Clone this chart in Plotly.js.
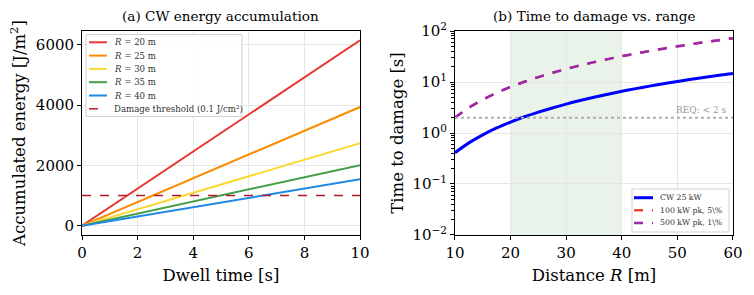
<!DOCTYPE html>
<html><head><meta charset="utf-8">
<script src="https://cdn.plot.ly/plotly-3.0.1.min.js"></script>
<style>html,body{margin:0;padding:0;background:#fff}#c{width:754px;height:295px}</style>
</head><body><div id="c"></div>
<script>
// Panel (a): energy accumulation, endpoints of linear ramps
const dwell = [0, 10];
const rangeLabels = ['20', '25', '30', '35', '40'];
const energyAt10 = [6150, 3936, 2733, 2008, 1538];
const thresholdJ = 1000;
const colorsA = ['#e53935', '#fb8c00', '#fdd835', '#43a047', '#1e88e5'];

// Panel (b): time to damage vs distance
const dist = [10, 12.5, 15, 17.5, 20, 22.5, 25, 27.5, 30, 32.5, 35, 37.5, 40, 42.5, 45, 47.5, 50, 52.5, 55, 57.5, 60];
const tCW = [0.41, 0.64, 0.92, 1.26, 1.64, 2.08, 2.56, 3.10, 3.69, 4.33, 5.02, 5.77, 6.56, 7.41, 8.30, 9.25, 10.25, 11.3, 12.4, 13.55, 14.76];
const tPk100 = [2.0, 3.13, 4.5, 6.13, 8.0, 10.1, 12.5, 15.1, 18.0, 21.1, 24.5, 28.1, 32.0, 36.1, 40.5, 45.1, 50.0, 55.1, 60.5, 66.1, 72.0];
const tPk500 = [2.0, 3.13, 4.5, 6.13, 8.0, 10.1, 12.5, 15.1, 18.0, 21.1, 24.5, 28.1, 32.0, 36.1, 40.5, 45.1, 50.0, 55.1, 60.5, 66.1, 72.0];
const reqTime = 2;
const opRange = [20, 40];

const F = 'DejaVu Serif, serif';
const W = 754, H = 295;
const px = v => v / W, py = v => (H - v) / H;

const traces = [];
const legA = [];
rangeLabels.forEach((r, i) => {
  traces.push({x: dwell, y: [0, energyAt10[i]], mode: 'lines', showlegend: false,
    line: {color: colorsA[i], width: 2}, xaxis: 'x', yaxis: 'y'});
  legA.push({label: '<i>R</i> = ' + r + ' m', color: colorsA[i], dash: 'solid', width: 2});
});
traces.push({x: dwell, y: [thresholdJ, thresholdJ], mode: 'lines', showlegend: false,
  line: {color: '#b2182b', width: 1.5, dash: 'dash'}, xaxis: 'x', yaxis: 'y'});
legA.push({label: 'Damage threshold (0.1 J/cm²)', color: '#b2182b', dash: 'dash', width: 1.5});

const seriesB = [
  {y: tCW, label: 'CW 25 kW', color: '#0000ff', dash: 'solid', width: 3},
  {y: tPk100, label: '100 kW pk, 5\\%', color: '#f44336', dash: 'dash', width: 2.5},
  {y: tPk500, label: '500 kW pk, 1\\%', color: '#9c27b0', dash: 'dash', width: 2.5}
];
seriesB.forEach(s => traces.push({x: dist, y: s.y, mode: 'lines', showlegend: false,
  line: {color: s.color, width: s.width, dash: s.dash, shape: 'spline'}, xaxis: 'x2', yaxis: 'y2'}));
traces.push({x: [dist[0], dist[dist.length-1]], y: [reqTime, reqTime], mode: 'lines', showlegend: false,
  line: {color: '#b0b0b0', width: 2, dash: 'dot'}, xaxis: 'x2', yaxis: 'y2'});

const axBase = {showline: true, mirror: true, linecolor: '#000', linewidth: 1, ticks: 'outside', ticklen: 4,
  tickcolor: '#000', showgrid: true, gridcolor: '#e6e6e6', gridwidth: 1, zeroline: false,
  tickfont: {family: F, size: 15, color: '#000'}};

const minorVals = [];
for (let e = -2; e < 2; e++) for (let m = 2; m <= 9; m++) minorVals.push(m * Math.pow(10, e));

const shapes = [{type: 'rect', xref: 'x2', yref: 'y2 domain', x0: opRange[0], x1: opRange[1], y0: 0, y1: 1,
  fillcolor: 'rgba(76,160,76,0.12)', line: {width: 0}, layer: 'below'}];
const annotations = [
  {text: '(a) CW energy accumulation', xref: 'paper', yref: 'paper', x: 0.2931, y: py(16), xanchor: 'center', yanchor: 'middle',
    showarrow: false, font: {family: F, size: 13.6}},
  {text: '(b) Time to damage vs. range', xref: 'paper', yref: 'paper', x: 0.7878, y: py(16), xanchor: 'center', yanchor: 'middle',
    showarrow: false, font: {family: F, size: 13.6}},
  {text: 'REQ: < 2 s', xref: 'x2', yref: 'y2', x: 59.3, y: Math.log10(reqTime), xanchor: 'right', yanchor: 'bottom',
    showarrow: false, font: {family: F, size: 9, color: '#999999'}, yshift: 1}
];

// manual legends (matplotlib-like compact rows)
function addLegend(items, box, row0, dy, sw0, sw1, tx, fs) {
  shapes.push({type: 'rect', xref: 'paper', yref: 'paper', x0: px(box[0]), x1: px(box[1]), y0: py(box[3]), y1: py(box[2]),
    fillcolor: 'rgba(255,255,255,0.85)', line: {color: '#d0d0d0', width: 1}, layer: 'above'});
  items.forEach((it, i) => {
    const yy = row0 + i * dy;
    shapes.push({type: 'line', xref: 'paper', yref: 'paper', x0: px(sw0), x1: px(sw1), y0: py(yy), y1: py(yy),
      line: {color: it.color, width: it.width, dash: it.dash}, layer: 'above'});
    annotations.push({text: it.label, xref: 'paper', yref: 'paper', x: px(tx), y: py(yy), xanchor: 'left', yanchor: 'middle',
      showarrow: false, font: {family: F, size: fs, color: '#333'}});
  });
}
addLegend(legA, [86, 242, 34.5, 116.5], 42.3, 13.3, 89, 107, 112, 8.6);
addLegend(seriesB, [632, 729, 189, 232], 197.7, 12.6, 634, 653, 658, 7.8);

const layout = {
  width: W, height: H, margin: {l: 0, r: 0, t: 0, b: 0}, paper_bgcolor: '#fff', plot_bgcolor: '#fff',
  font: {family: F, color: '#000'}, showlegend: false,
  xaxis: Object.assign({}, axBase, {domain: [0.1088, 0.4775], range: [0, 10], tickvals: [0, 2, 4, 6, 8, 10],
    title: {text: 'Dwell time [s]', font: {family: F, size: 16.5}, standoff: 8}, anchor: 'y'}),
  yaxis: Object.assign({}, axBase, {domain: [0.2034, 0.8949], range: [-307, 6457], tickvals: [0, 2000, 4000, 6000],
    title: {text: 'Accumulated energy [J/m<sup>2</sup>]', font: {family: F, size: 16.5}, standoff: 6}, anchor: 'x'}),
  xaxis2: Object.assign({}, axBase, {domain: [0.6034, 0.9721], range: [10, 60], tickvals: [10, 20, 30, 40, 50, 60],
    title: {text: 'Distance <i>R</i> [m]', font: {family: F, size: 16.5}, standoff: 8}, anchor: 'y2'}),
  yaxis2: Object.assign({}, axBase, {domain: [0.2034, 0.8949], type: 'log', range: [-2, 2],
    tickvals: [0.01, 0.1, 1, 10, 100],
    ticktext: ['10<sup>−2</sup>', '10<sup>−1</sup>', '10<sup>0</sup>', '10<sup>1</sup>', '10<sup>2</sup>'],
    minor: {tickmode: 'array', tickvals: minorVals, ticks: 'outside', ticklen: 2.5, tickcolor: '#000', showgrid: false},
    title: {text: 'Time to damage [s]', font: {family: F, size: 16.5}, standoff: 4}, anchor: 'x2'}),
  shapes: shapes,
  annotations: annotations
};
Plotly.newPlot('c', traces, layout, {staticPlot: true});
</script></body></html>
